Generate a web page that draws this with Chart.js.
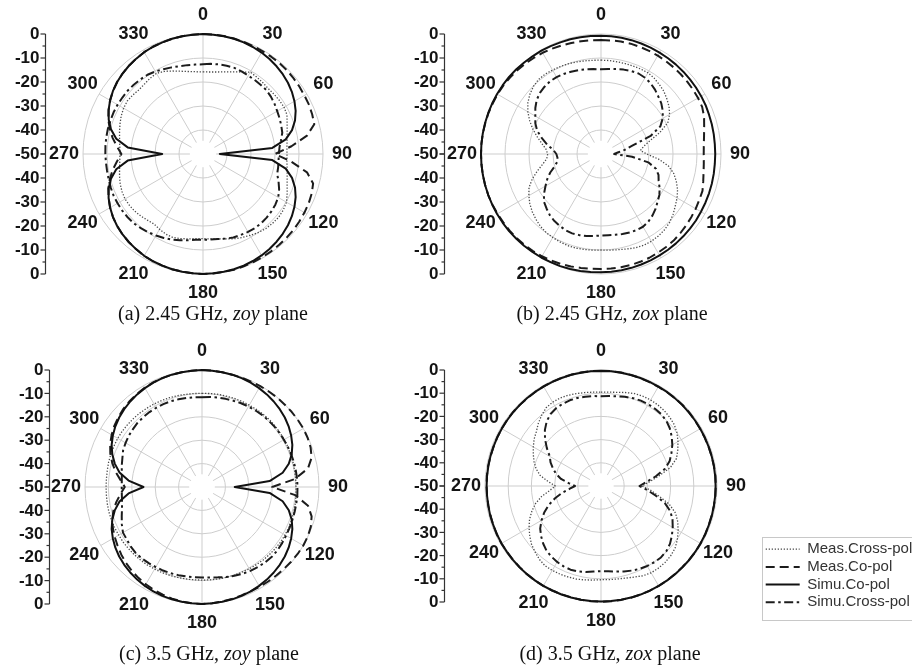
<!DOCTYPE html>
<html>
<head>
<meta charset="utf-8">
<script src="https://cdn.jsdelivr.net/npm/chart.js@4.4.1/dist/chart.umd.min.js"></script>
<style>
  html, body { margin: 0; padding: 0; background: #fff; }
  body { width: 912px; height: 671px; overflow: hidden; position: relative; }
  canvas { position: absolute; }
  .cap {
    position: absolute; white-space: nowrap; color: #111;
    font-family: "Liberation Serif", "Times New Roman", serif; font-size: 20px;
    transform: translate(-50%, -50%);
  }
  #legendFrame { position: absolute; left: 762px; top: 537px; width: 180px; height: 82px; border: 1px solid #c8c8c8; }
</style>
</head>
<body>
<div id="legendFrame"></div>
<canvas id="pa"></canvas>
<canvas id="pb"></canvas>
<canvas id="pc"></canvas>
<canvas id="pd"></canvas>
<canvas id="lg" width="190" height="84"></canvas>
<div class="cap" style="left:213px;top:313px">(a) 2.45 GHz, <i>zoy</i> plane</div>
<div class="cap" style="left:612px;top:313px">(b) 2.45 GHz, <i>zox</i> plane</div>
<div class="cap" style="left:209px;top:653px">(c) 3.5 GHz, <i>zoy</i> plane</div>
<div class="cap" style="left:610px;top:653px">(d) 3.5 GHz, <i>zox</i> plane</div>
<script>
// Angles (degrees, clockwise from the top) at which each pattern is sampled
const angles = [0,5,10,15,20,25,30,35,40,45,50,55,60,65,70,75,80,85,90,95,100,105,110,115,120,125,130,135,140,145,150,155,160,165,170,175,
                180,185,190,195,200,205,210,215,220,225,230,235,240,245,250,255,260,265,270,275,280,285,290,295,300,305,310,315,320,325,330,335,340,345,350,355];
const angleTicks = [0,30,60,90,120,150,180,210,240,270,300,330];
const dbTicks = [0,-10,-20,-30,-40,-50];
const seriesNames = ['Meas.Cross-pol','Meas.Co-pol','Simu.Co-pol','Simu.Cross-pol'];

// (a) 2.45 GHz, zoy plane — normalised gain in dB
const a_simCo = [0,-0.1,-0.2,-0.3,-0.5,-0.8,-1.2,-1.7,-2.3,-3.0, -3.8,-4.8,-6.0,-7.4,-9.2,-11.6,-15,-21,-43,-21, -15,-11.6,-9.2,-7.4,-6.0,-4.8,-3.8,-3.0,-2.3,-1.7, -1.2,-0.8,-0.5,-0.3,-0.2,-0.1,
                 0,-0.1,-0.2,-0.3,-0.5,-0.7,-1.0,-1.5,-2.0,-2.6, -3.3,-4.2,-5.3,-6.6,-8.2,-10.3,-13.3,-18.5,-33,-18.5, -13.3,-10.3,-8.2,-6.6,-5.3,-4.2,-3.3,-2.6,-2.0,-1.5, -1.0,-0.7,-0.5,-0.3,-0.2,-0.1];
const a_measCo = [0,0,-0.1,-0.2,-0.3,-0.4,-0.5,-0.5,-0.5,-0.6, -0.8,-1.0,-1.2,-1.3,-1.6,-2.0,-6,-13,-20,-13, -6,-2.5,-1.8,-1.4,-1.2,-1.0,-0.8,-0.7,-0.6,-0.5, -0.4,-0.3,-0.2,-0.1,-0.1,0,
                  0,-0.1,-0.2,-0.3,-0.5,-0.7,-1.0,-1.5,-2.0,-2.6, -3.3,-4.2,-5.3,-6.6,-8.0,-9.8,-11.8,-14,-16,-14, -11.8,-9.8,-8.0,-6.6,-5.3,-4.2,-3.3,-2.6,-2.0,-1.5, -1.0,-0.7,-0.5,-0.3,-0.2,-0.1];
const a_measCross = [-15.8,-15.7,-15.3,-14.6,-13.6,-12.3,-10.6,-10.9,-11.2,-11.5, -11.3,-11.1,-11.0,-11.4,-12.7,-13.7,-14.4,-14.9,-15,-14.9, -14.4,-13.7,-12.7,-11.3,-9.8,-9.2,-8.9,-9.1,-9.4,-10, -10.8,-11.6,-12.4,-13.4,-14.1,-14.5,
                     -14.7,-14.6,-14.1,-13.5,-13,-13.2,-13.8,-14.4,-14,-13.4, -12.9,-12.6,-12.5,-12.8,-13.3,-14,-14.7,-15.2,-15.4,-15.2, -14.7,-14,-13.2,-12.4,-11.8,-11.5,-11.8,-12.2,-12,-11.5, -11.2,-12,-13.2,-14.3,-15.1,-15.6];
const a_simCross = [-12.6,-12.3,-12.1,-11.9,-11.8,-12.0,-12.3,-12.4,-12.5,-12.5, -13.0,-13.6,-14.3,-14.8,-15.3,-15.8,-17,-18,-18.4,-18.4, -18.2,-18,-16.5,-15,-13.8,-13.2,-12.8,-12.5,-12.3,-12.3, -12.5,-12.8,-13,-13.5,-14,-14.2,
                    -14.3,-14.1,-13.5,-12.8,-12,-11.4,-10.8,-10.2,-9.7,-9.2, -9,-8.9,-8.9,-8.9,-9.1,-9.3,-9.4,-9.4,-9.3,-9.2, -9.1,-9.0,-9,-8.9,-8.9,-9,-9,-9.2,-9.4,-9.7, -10.3,-11,-11.6,-12.1,-12.4,-12.6];

// (b) 2.45 GHz, zox plane
const b_simCo = [-0.7,-0.75,-0.8,-0.9,-1.0,-1.1,-1.2,-1.3,-1.4,-1.5, -1.6,-1.7,-1.8,-1.9,-2.1,-2.2,-2.3,-2.4,-2.4,-2.4, -2.3,-2.2,-2.1,-2.0,-1.9,-1.7,-1.6,-1.5,-1.4,-1.3, -1.2,-1.1,-1.0,-0.9,-0.8,-0.75,
                 -0.7,-0.6,-0.5,-0.4,-0.3,-0.3,-0.2,-0.2,-0.1,-0.1, 0,0,0,0,0,0,0,0,0,0, 0,0,0,0,0,0,0,-0.1,-0.2,-0.3, -0.3,-0.4,-0.5,-0.5,-0.6,-0.65];
const b_measCo = [-2.5,-2.5,-2.4,-2.4,-2.5,-2.6,-2.7,-2.8,-2.9,-3.0, -3.1,-3.2,-3.3,-3.5,-4.3,-5.5,-6.4,-7.0,-7.2,-7.0, -6.6,-5.9,-5.0,-4.8,-4.4,-4.1,-3.7,-3.3,-2.9,-2.7, -2.5,-2.3,-2.2,-2.1,-2.1,-2.1,
                  -2.1,-2.0,-1.8,-1.5,-1.2,-1.0,-0.8,-0.6,-0.5,-0.4, -0.3,-0.3,-0.2,-0.1,0,0,0,0,0,0, 0,-0.1,-0.1,-0.2,-0.2,-0.3,-0.5,-0.7,-0.9,-1.1, -1.3,-1.6,-1.9,-2.1,-2.3,-2.4];
const b_measCross = [-10.9,-10.9,-11,-11,-11,-10.9,-10.9,-11.4,-12.2,-13, -14.2,-15.4,-17,-19.3,-24,-29,-32,-33.5,-31,-26, -21.5,-18.6,-16.6,-14.8,-13.4,-12.2,-10.8,-9.6,-8.8,-8.3, -8.0,-8.0,-8.4,-9,-9.5,-9.8,
                     -10,-9.8,-9.6,-9.4,-9.4,-9.6,-9.8,-10.1,-10.7,-11.6, -12.6,-13.8,-15.3,-16.9,-19.5,-22.5,-25.3,-27.3,-27.8,-27, -25,-22.5,-19.8,-17.2,-14.8,-12.8,-11.3,-10.2,-9.5,-9.4, -9.6,-9.8,-10,-10.3,-10.6,-10.8];
const b_simCross = [-14.7,-14.4,-14,-13.6,-13.2,-13,-13.3,-14,-15,-16.2, -17.2,-18.6,-20.3,-22.7,-28,-36.5,-40,-43,-44.5,-37, -30,-26.3,-24.5,-23.5,-21.8,-20.3,-19.2,-17.8,-16.6,-15.6, -15,-15,-15.2,-15.5,-15.8,-16,
                    -16,-15.7,-15.3,-15,-14.8,-15,-15.5,-16,-16.8,-17.9, -19,-21,-23.3,-25.3,-27.5,-30,-31.5,-31.8,-31.4,-30, -27.2,-24.5,-21.7,-19.8,-18.4,-16.6,-15,-14,-13.4,-13, -13,-13.2,-13.5,-13.8,-14.2,-14.5];

// (c) 3.5 GHz, zoy plane
const c_simCo = [0,-0.1,-0.2,-0.3,-0.5,-0.8,-1.2,-1.7,-2.3,-3.0, -3.8,-4.8,-6.0,-7.4,-9.2,-11.6,-15,-21,-36,-21, -15,-11.6,-9.2,-7.4,-6.0,-4.8,-3.8,-3.0,-2.3,-1.7, -1.2,-0.8,-0.5,-0.3,-0.2,-0.1,
                 0,-0.1,-0.2,-0.3,-0.5,-0.8,-1.2,-1.7,-2.3,-3.0, -3.8,-4.8,-6.0,-7.4,-9.2,-11.4,-14.2,-18.5,-25,-18.5, -14.2,-11.4,-9.2,-7.4,-6.0,-4.8,-3.8,-3.0,-2.3,-1.7, -1.2,-0.8,-0.5,-0.3,-0.2,-0.1];
const c_measCo = [0,-0.1,-0.2,-0.3,-0.3,-0.3,-0.2,-0.2,-0.1,-0.1, 0,0,0,-0.2,-0.6,-1.5,-4,-10,-20,-10, -4,-1.5,-0.5,-0.1,0,-0.1,-0.3,-0.5,-0.6,-0.7, -0.8,-0.8,-0.7,-0.5,-0.3,-0.1,
                  0,-0.1,-0.3,-0.6,-1.0,-1.5,-2.0,-2.6,-3.3,-4.1, -5.0,-6.0,-7.0,-8.0,-9.2,-10.8,-12.8,-15,-17,-15, -12.5,-10.3,-8.3,-6.7,-5.4,-4.3,-3.4,-2.6,-2.0,-1.5, -1.0,-0.7,-0.5,-0.3,-0.2,-0.1];
const c_measCross = [-10,-9.9,-9.8,-9.8,-9.7,-9.6,-9.6,-9.5,-9.4,-9.3, -9.3,-9.4,-9.4,-9.5,-9.6,-9.7,-9.8,-9.8,-9.8,-9.7, -9.5,-9.4,-9.2,-9.1,-9,-9,-9.1,-9.2,-9.3,-9.5, -9.6,-9.8,-9.9,-10,-10.1,-10.2,
                     -10.2,-10.2,-10.1,-10,-9.8,-9.6,-9.5,-9.3,-9.2,-9.1, -9,-8.9,-8.9,-8.8,-8.8,-8.8,-8.9,-9,-9,-9, -8.9,-8.7,-8.6,-8.5,-8.4,-8.4,-8.5,-8.6,-8.7,-8.9, -9,-9.2,-9.4,-9.6,-9.8,-9.9];
const c_simCross = [-11.6,-11.4,-11.2,-11,-10.8,-10.5,-10.3,-10.1,-9.9,-9.8, -9.7,-9.6,-9.6,-9.5,-9.4,-9.3,-9.3,-9.2,-9.2,-9.1, -9.1,-9,-8.9,-8.7,-8.5,-8.2,-7.9,-7.8,-8,-8.3, -8.6,-9.1,-9.6,-10.2,-10.8,-11.2,
                    -11.3,-11.3,-11.2,-11,-10.8,-10.6,-10.5,-10.3,-10.1,-10, -10.3,-10.8,-11,-12.2,-13.5,-14.6,-15.3,-15.6,-15.7,-15.6, -15.2,-14.5,-13.8,-12.8,-12.3,-11.8,-11.5,-11.1,-11,-10.9, -10.9,-10.9,-11,-11.2,-11.4,-11.5];

// (d) 3.5 GHz, zox plane
const d_simCo = [-0.4,-0.4,-0.4,-0.45,-0.45,-0.5,-0.5,-0.5,-0.55,-0.55, -0.6,-0.6,-0.6,-0.6,-0.6,-0.6,-0.6,-0.6,-0.6,-0.6, -0.6,-0.55,-0.55,-0.5,-0.5,-0.45,-0.4,-0.4,-0.35,-0.3, -0.3,-0.25,-0.2,-0.2,-0.2,-0.2,
                 -0.2,-0.2,-0.2,-0.25,-0.25,-0.3,-0.3,-0.35,-0.4,-0.4, -0.45,-0.5,-0.5,-0.55,-0.6,-0.6,-0.65,-0.7,-0.7,-0.7, -0.7,-0.65,-0.65,-0.6,-0.6,-0.6,-0.55,-0.55,-0.5,-0.5, -0.5,-0.45,-0.45,-0.4,-0.4,-0.4];
const d_measCo = [-0.3,-0.3,-0.35,-0.4,-0.5,-0.6,-0.6,-0.55,-0.5,-0.45, -0.5,-0.6,-0.7,-0.7,-0.65,-0.6,-0.55,-0.5,-0.5,-0.55, -0.6,-0.65,-0.6,-0.5,-0.45,-0.4,-0.45,-0.5,-0.45,-0.35, -0.25,-0.2,-0.2,-0.15,-0.15,-0.1,
                  -0.1,-0.15,-0.2,-0.3,-0.35,-0.3,-0.25,-0.3,-0.35,-0.45, -0.5,-0.5,-0.45,-0.5,-0.6,-0.7,-0.75,-0.7,-0.65,-0.6, -0.6,-0.65,-0.7,-0.65,-0.55,-0.5,-0.5,-0.55,-0.6,-0.55, -0.45,-0.4,-0.35,-0.35,-0.3,-0.3];
const d_measCross = [-9.5,-9.4,-9.0,-8.3,-7.6,-7.3,-7.2,-7.3,-7.6,-8.1, -8.8,-10.0,-11.7,-13.5,-15.4,-19,-24.5,-29,-32.3,-28.5, -24.5,-19.5,-15.8,-13.5,-11.6,-9.8,-8.3,-7.5,-7.0,-6.8, -6.8,-7.3,-8.2,-8.9,-9.3,-9.5,
                     -9.6,-9.3,-8.9,-8.5,-8.3,-8.1,-8.0,-8.0,-8.7,-9.8, -10.9,-12.5,-14.2,-16,-18.3,-20.8,-24,-27.8,-30.3,-27, -23.3,-21,-19.3,-17.8,-16.3,-14.8,-13.6,-11.8,-10.2,-8.8, -8.3,-8.2,-8.4,-8.8,-9.1,-9.4];
const d_simCross = [-11.3,-11.1,-10.7,-10.2,-9.7,-9.4,-9.3,-9.4,-9.6,-10.2, -11.3,-12.8,-14.5,-16.5,-18.5,-21.5,-26,-30.5,-33.4,-30, -26,-21.5,-18.2,-16,-14.3,-12.7,-11.2,-10.2,-9.8,-9.9, -10.2,-10.6,-11.2,-11.9,-12.6,-13.1,
                    -13.3,-13,-12.4,-11.9,-11.6,-11.8,-12.2,-12.8,-13.5,-14.8, -16.3,-18,-20.4,-23,-26,-29.5,-33,-36.5,-38.8,-36, -32.5,-30,-28,-26,-24.5,-21.5,-18.5,-15.8,-13.6,-12.1, -11.3,-10.9,-10.7,-10.7,-10.9,-11.1];

// Line styles for the four traces (same look in every panel and in the key)
const traceStyle = {
  measCross: { borderColor: '#4a4a4a', borderWidth: 1.3, borderDash: [1.3, 1.7] },
  measCo:    { borderColor: '#1c1c1c', borderWidth: 2,   borderDash: [9, 5] },
  simCo:     { borderColor: '#111111', borderWidth: 2,   borderDash: [] },
  simCross:  { borderColor: '#1c1c1c', borderWidth: 2,   borderDash: [9, 3.5, 2.5, 3.5] }
};

Chart.defaults.font.family = '"Liberation Sans", Arial, sans-serif';
const GRID = '#cdcdcd';

// Draws the angle labels, the clear centre and the dB ruler beside each polar plot
const polarDecor = {
  id: 'polarDecor',
  beforeDatasetsDraw(chart) {
    const s = chart.scales.r, ctx = chart.ctx;
    ctx.save();
    ctx.fillStyle = '#fff';
    ctx.beginPath();
    ctx.arc(s.xCenter, s.yCenter, s.drawingArea * 0.11, 0, Math.PI * 2);
    ctx.fill();
    ctx.restore();
  },
  afterDraw(chart, args, opts) {
    const s = chart.scales.r, ctx = chart.ctx;
    const cx = s.xCenter, cy = s.yCenter;
    ctx.save();
    ctx.font = 'bold 18px "Liberation Sans", Arial, sans-serif';
    ctx.fillStyle = '#141414';
    ctx.textAlign = 'center';
    ctx.textBaseline = 'middle';
    angleTicks.forEach(a => {
      const p = s.getPointPosition(angles.indexOf(a), s.drawingArea + 19);
      ctx.fillText(String(a), p.x, p.y);
    });

    // dB ruler: 0 at the rim, -50 at the centre, mirrored downwards
    const ax = Math.round(cx - opts.axisGap) + 0.5;
    ctx.strokeStyle = '#333';
    ctx.lineWidth = 1.2;
    ctx.beginPath();
    ctx.moveTo(ax, cy - s.drawingArea);
    ctx.lineTo(ax, cy + s.drawingArea);
    ctx.stroke();
    for (let v = -50; v <= 0; v += 5) {
      const d = s.getDistanceFromCenterForValue(v);
      const len = (v % 10 === 0) ? 5 : 3;
      [cy - d, cy + d].forEach(y => {
        ctx.beginPath();
        ctx.moveTo(ax - len, y);
        ctx.lineTo(ax, y);
        ctx.stroke();
      });
    }
    ctx.font = 'bold 17px "Liberation Sans", Arial, sans-serif';
    ctx.textAlign = 'right';
    dbTicks.forEach(v => {
      const d = s.getDistanceFromCenterForValue(v);
      const ys = v === -50 ? [cy] : [cy - d, cy + d];
      ys.forEach(y => ctx.fillText(String(v), ax - 6, y + 0.5));
    });
    ctx.restore();
  }
};

function polarChart(id, cx, cy, R, axisGap, series) {
  const pad = 90;
  const size = 2 * R + 2 * pad;
  const el = document.getElementById(id);
  el.width = size;
  el.height = size;
  const ds = [
    Object.assign({ label: seriesNames[2], data: series.simCo }, traceStyle.simCo),
    Object.assign({ label: seriesNames[1], data: series.measCo }, traceStyle.measCo),
    Object.assign({ label: seriesNames[3], data: series.simCross }, traceStyle.simCross),
    Object.assign({ label: seriesNames[0], data: series.measCross }, traceStyle.measCross)
  ].map(d => Object.assign(d, { fill: false, pointRadius: 0, pointHitRadius: 0, tension: 0, borderJoinStyle: 'round' }));

  const chart = new Chart(el, {
    type: 'radar',
    data: { labels: angles, datasets: ds },
    options: {
      responsive: false,
      animation: false,
      devicePixelRatio: 1,
      events: [],
      layout: { padding: pad },
      plugins: { legend: { display: false }, tooltip: { enabled: false }, polarDecor: { axisGap } },
      scales: {
        r: {
          min: -50, max: 0,
          startAngle: 0,
          ticks: { display: false, stepSize: 10 },
          pointLabels: { display: false },
          grid: { circular: true, color: GRID, lineWidth: 1 },
          angleLines: {
            display: true,
            color: GRID,
            lineWidth: c => (angles[c.index] % 30 === 0 ? 1 : 0)
          }
        }
      }
    },
    plugins: [polarDecor]
  });
  const s = chart.scales.r;
  el.style.left = Math.round(cx - s.xCenter) + 'px';
  el.style.top = Math.round(cy - s.yCenter) + 'px';
  return chart;
}

polarChart('pa', 202.5, 153.5, 120.5, 158.5, { simCo: a_simCo, measCo: a_measCo, simCross: a_simCross, measCross: a_measCross });
polarChart('pb', 600.7, 153.5, 120.5, 157,   { simCo: b_simCo, measCo: b_measCo, simCross: b_simCross, measCross: b_measCross });
polarChart('pc', 202.3, 486.7, 117.5, 153,   { simCo: c_simCo, measCo: c_measCo, simCross: c_simCross, measCross: c_measCross });
polarChart('pd', 600.7, 485.8, 116.5, 157,   { simCo: d_simCo, measCo: d_measCo, simCross: d_simCross, measCross: d_measCross });

// Shared key for the four traces
const lg = document.getElementById('lg');
lg.style.left = '763px';
lg.style.top = '539px';
new Chart(lg, {
  type: 'line',
  data: {
    labels: [],
    datasets: [
      Object.assign({ label: seriesNames[0], data: [] }, traceStyle.measCross),
      Object.assign({ label: seriesNames[1], data: [] }, traceStyle.measCo),
      Object.assign({ label: seriesNames[2], data: [] }, traceStyle.simCo),
      Object.assign({ label: seriesNames[3], data: [] }, traceStyle.simCross)
    ]
  },
  options: {
    responsive: false,
    animation: false,
    devicePixelRatio: 1,
    events: [],
    layout: { padding: 0 },
    scales: { x: { display: false }, y: { display: false } },
    plugins: {
      tooltip: { enabled: false },
      legend: {
        display: true,
        position: 'left',
        align: 'start',
        maxWidth: 400,
        labels: {
          usePointStyle: true,
          pointStyleWidth: 34,
          boxHeight: 15,
          padding: 2.7,
          color: '#333',
          font: { size: 15, family: '"Liberation Sans", Arial, sans-serif' },
          generateLabels: c => c.data.datasets.map((d, i) => ({
            text: d.label,
            datasetIndex: i,
            hidden: false,
            fillStyle: 'rgba(0,0,0,0)',
            strokeStyle: d.borderColor,
            lineWidth: d.borderWidth,
            lineDash: d.borderDash,
            lineCap: 'butt',
            pointStyle: 'line',
            fontColor: '#333'
          }))
        }
      }
    }
  }
});
</script>
</body>
</html>
